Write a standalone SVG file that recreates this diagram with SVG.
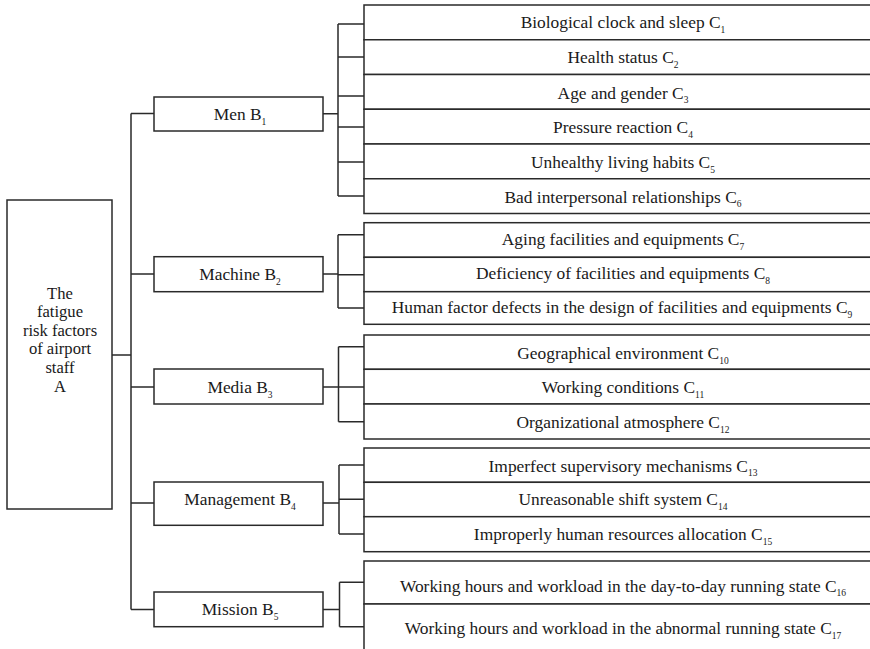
<svg xmlns="http://www.w3.org/2000/svg" width="870" height="649" viewBox="0 0 870 649">
<style>
rect{fill:#fff;stroke:#2a2a2a;stroke-width:1.5}
.c path,.c line{fill:none;stroke:#2a2a2a;stroke-width:1.5}
text{font-family:"Liberation Serif","Times New Roman",serif;font-size:17.4px;fill:#1a1a1a;text-anchor:middle}
.a{font-size:16.6px}
.s{font-size:9.5px}
</style>
<rect width="870" height="649" style="fill:#fff;stroke:none"/>
<g class="c" id="connectors">
<path d="M112,355H131M131,113.5V609.5M131,113.5H154M131,274H154M131,387H154M131,503H154M131,609.5H154"/>
<path d="M323,113.7H338M338,24V196M338,24H364M338,57H364M338,96H364M338,127H364M338,162H364M338,196H364"/>
<path d="M323,274H338M338,234.7V308M338,234.7H364M338,274.7H364M338,308H364"/>
<path d="M323,387H338.5M338.5,346.7V421.7M338.5,346.7H364M338.5,387H364M338.5,421.7H364"/>
<path d="M323,503H339M339,465V534M339,465H364M339,499.3H364M339,534H364"/>
<path d="M323,609.5H339.5M339.5,582.3V626.7M339.5,582.3H364M339.5,626.7H364"/>
</g>
<g id="A"><rect x="7" y="200" width="105" height="309"/>
<text class="a" x="60" y="298.5">The</text><text class="a" x="60" y="317">fatigue</text><text class="a" x="60" y="335.5">risk factors</text><text class="a" x="60" y="354">of airport</text><text class="a" x="60" y="373">staff</text><text class="a" x="60" y="391.5">A</text></g>
<g id="B1"><rect x="154" y="97" width="169" height="34"/><text x="240" y="120">Men B<tspan class="s" dy="4.5">1</tspan></text></g>
<g id="B2"><rect x="154" y="256.7" width="169" height="35"/><text x="240" y="280">Machine B<tspan class="s" dy="4.5">2</tspan></text></g>
<g id="B3"><rect x="154" y="369" width="169" height="35"/><text x="240" y="393">Media B<tspan class="s" dy="4.5">3</tspan></text></g>
<g id="B4"><rect x="154" y="482" width="169" height="43.3"/><text x="240" y="505">Management B<tspan class="s" dy="4.5">4</tspan></text></g>
<g id="B5"><rect x="154" y="592" width="169" height="34.7"/><text x="240" y="615">Mission B<tspan class="s" dy="4.5">5</tspan></text></g>
<g id="C1"><rect x="364" y="5" width="520" height="34.75"/><text x="623" y="28.3">Biological clock and sleep C<tspan class="s" dy="4.5">1</tspan></text></g>
<g id="C2"><rect x="364" y="39.75" width="520" height="34.75"/><text x="623" y="63.3">Health status C<tspan class="s" dy="4.5">2</tspan></text></g>
<g id="C3"><rect x="364" y="74.5" width="520" height="34.75"/><text x="623" y="98.7">Age and gender C<tspan class="s" dy="4.5">3</tspan></text></g>
<g id="C4"><rect x="364" y="109.25" width="520" height="34.75"/><text x="623" y="133.3">Pressure reaction C<tspan class="s" dy="4.5">4</tspan></text></g>
<g id="C5"><rect x="364" y="144" width="520" height="34.75"/><text x="623" y="168.3">Unhealthy living habits C<tspan class="s" dy="4.5">5</tspan></text></g>
<g id="C6"><rect x="364" y="178.75" width="520" height="34.75"/><text x="623" y="202.7">Bad interpersonal relationships C<tspan class="s" dy="4.5">6</tspan></text></g>
<g id="C7"><rect x="364" y="222.7" width="520" height="34.6"/><text x="623" y="245">Aging facilities and equipments C<tspan class="s" dy="4.5">7</tspan></text></g>
<g id="C8"><rect x="364" y="257.3" width="520" height="34.4"/><text x="623" y="279.3">Deficiency of facilities and equipments C<tspan class="s" dy="4.5">8</tspan></text></g>
<g id="C9"><rect x="364" y="291.7" width="520" height="32.6"/><text x="622" y="313.3">Human factor defects in the design of facilities and equipments C<tspan class="s" dy="4.5">9</tspan></text></g>
<g id="C10"><rect x="364" y="335" width="520" height="34.3"/><text x="623" y="359">Geographical environment C<tspan class="s" dy="4.5">10</tspan></text></g>
<g id="C11"><rect x="364" y="369.3" width="520" height="34.7"/><text x="623" y="393.3">Working conditions C<tspan class="s" dy="4.5">11</tspan></text></g>
<g id="C12"><rect x="364" y="404" width="520" height="35"/><text x="623" y="428.3">Organizational atmosphere C<tspan class="s" dy="4.5">12</tspan></text></g>
<g id="C13"><rect x="364" y="448" width="520" height="34.3"/><text x="623" y="471.7">Imperfect supervisory mechanisms C<tspan class="s" dy="4.5">13</tspan></text></g>
<g id="C14"><rect x="364" y="482.3" width="520" height="34.4"/><text x="623" y="505">Unreasonable shift system C<tspan class="s" dy="4.5">14</tspan></text></g>
<g id="C15"><rect x="364" y="516.7" width="520" height="35"/><text x="623" y="540">Improperly human resources allocation C<tspan class="s" dy="4.5">15</tspan></text></g>
<g id="C16"><rect x="364" y="561" width="520" height="43"/><text x="623" y="591.7">Working hours and workload in the day-to-day running state C<tspan class="s" dy="4.5">16</tspan></text></g>
<g id="C17"><rect x="364" y="604" width="520" height="60"/><text x="623" y="634">Working hours and workload in the abnormal running state C<tspan class="s" dy="4.5">17</tspan></text></g>
</svg>
